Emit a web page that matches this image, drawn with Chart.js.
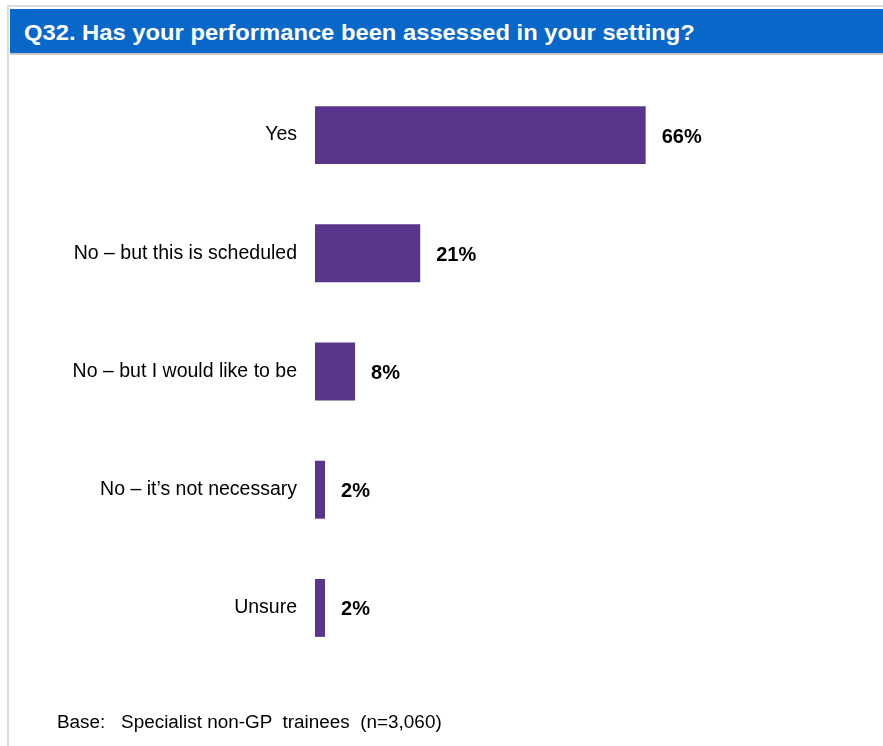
<!DOCTYPE html>
<html>
<head>
<meta charset="utf-8">
<script src="https://cdn.jsdelivr.net/npm/chart.js@4"></script>
<style>
  body { margin: 0; background: #fff; font-family: "Liberation Sans", Arial, sans-serif; }
  #page { position: relative; width: 883px; height: 746px; overflow: hidden; }
  #frameTop { position: absolute; left: 7px; top: 5px; width: 876px; height: 2px; background: #dcdcdc; }
  #frameLeft { position: absolute; left: 7px; top: 5px; width: 2px; height: 741px; background: #dcdcdc; }
  #title {
    position: absolute; left: 10px; top: 9px; width: 873px; height: 46px;
    background: #0868c9; border-bottom: 2px solid #c8c8c8; box-sizing: border-box;
    color: #fff; font-weight: bold; font-size: 22px; line-height: 48px; padding-left: 14px;
  }
  #title span { display: inline-block; transform: scaleX(1.08); transform-origin: left center; }
  #base { position: absolute; left: 57px; top: 712px; font-size: 18px; color: #000; white-space: pre;
          transform: scaleX(1.05); transform-origin: left center; }
  #chart { position: absolute; left: 0; top: 0; }
</style>
</head>
<body>
<div id="page">
  <div id="frameTop"></div>
  <div id="frameLeft"></div>
  <div id="title"><span>Q32. Has your performance been assessed in your setting?</span></div>
  <canvas id="chart" width="883" height="746"></canvas>
  <div id="base">Base:   Specialist non-GP  trainees  (n=3,060)</div>
</div>
<script>
const categories = ['Yes', 'No \u2013 but this is scheduled', 'No \u2013 but I would like to be', 'No \u2013 it\u2019s not necessary', 'Unsure'];
const percents = [66, 21, 8, 2, 2];

// value labels to the right of each bar
const valueLabels = {
    id: 'valueLabels',
    afterDatasetsDraw(chart) {
        const ctx = chart.ctx;
        const meta = chart.getDatasetMeta(0);
        ctx.save();
        ctx.font = 'bold 20px "Liberation Sans", Arial, sans-serif';
        ctx.fillStyle = '#000';
        ctx.textAlign = 'left';
        ctx.textBaseline = 'middle';
        meta.data.forEach((bar, i) => {
            ctx.fillText(percents[i] + '%', bar.x + 16, bar.y + 2);
        });
        ctx.restore();
    }
};

new Chart(document.getElementById('chart').getContext('2d'), {
    type: 'bar',
    data: {
        labels: categories,
        datasets: [{
            data: percents,
            backgroundColor: '#5a358c',
            categoryPercentage: 1,
            barPercentage: 0.49
        }]
    },
    options: {
        indexAxis: 'y',
        responsive: false,
        animation: false,
        devicePixelRatio: 1,
        layout: { padding: { left: 0, top: 76, bottom: 79, right: 67 } },
        plugins: { legend: { display: false }, tooltip: { enabled: false } },
        scales: {
            x: { display: false, min: 0, max: 100 },
            y: {
                grid: { display: false, drawTicks: false },
                border: { display: false },
                ticks: {
                    color: '#000',
                    padding: 18,
                    font: { family: '"Liberation Sans", Arial, sans-serif', size: 19.5 }
                },
                afterFit: s => { s.width = 315; }
            }
        }
    },
    plugins: [valueLabels]
});
</script>
</body>
</html>
